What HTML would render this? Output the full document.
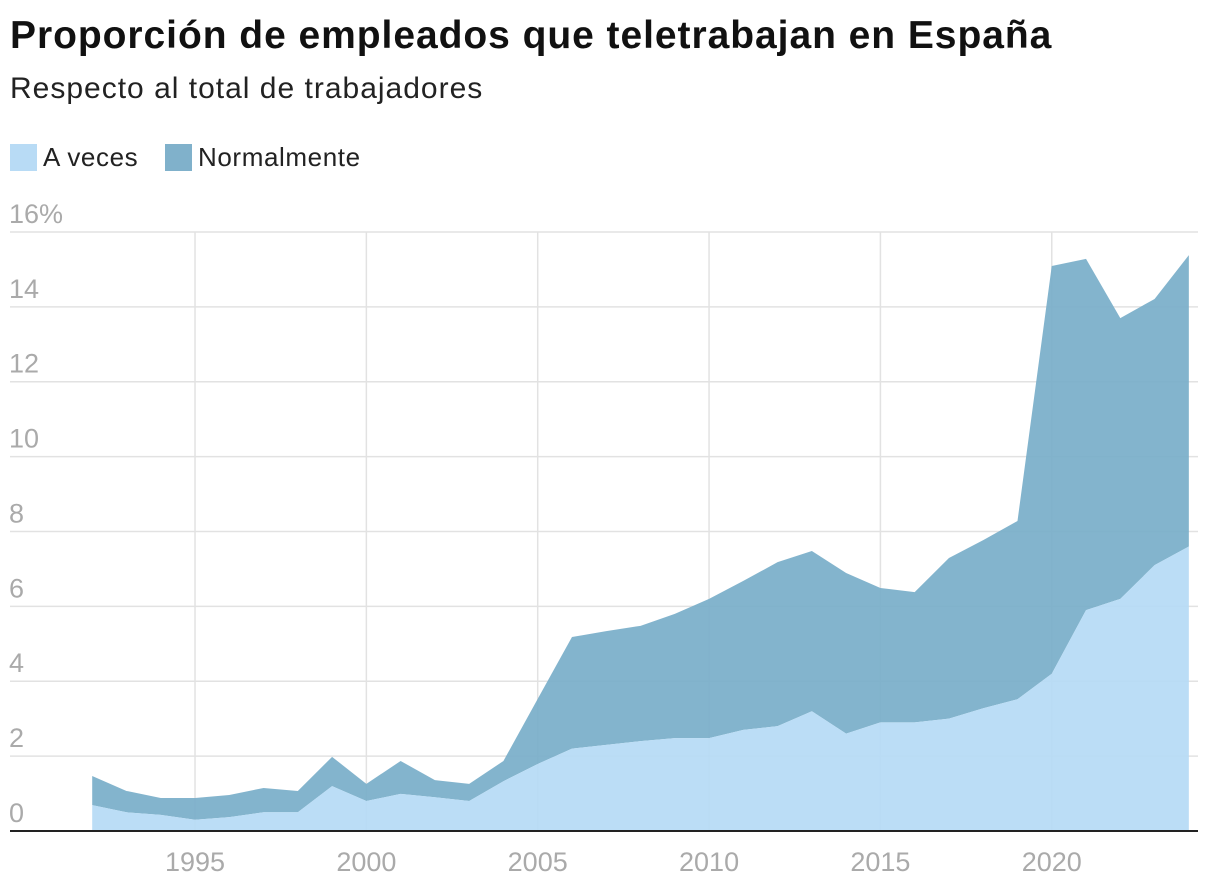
<!DOCTYPE html>
<html><head><meta charset="utf-8"><style>
body{margin:0;background:#fff;width:1220px;height:884px;overflow:hidden;font-family:"Liberation Sans",sans-serif;}
#title{position:absolute;left:10px;top:14px;font-size:39px;font-weight:bold;color:#111;letter-spacing:0.95px;}
#sub{position:absolute;left:10px;top:72px;font-size:30px;color:#222;letter-spacing:1px;}
.leg{position:absolute;top:142px;font-size:26px;color:#222;display:flex;align-items:center;letter-spacing:0.6px;}
.sw{width:27px;height:27px;margin-right:6px;display:inline-block;}
svg{position:absolute;left:0;top:0;}
</style></head><body>
<div id="title">Proporción de empleados que teletrabajan en España</div>
<div id="sub">Respecto al total de trabajadores</div>
<div class="leg" style="left:10px"><span class="sw" style="background:#b8dbf5"></span>A veces</div>
<div class="leg" style="left:165px"><span class="sw" style="background:#80b1cb"></span>Normalmente</div>
<svg id="chart" width="1220" height="884"></svg>
<script>
const years=[1992,1993,1994,1995,1996,1997,1998,1999,2000,2001,2002,2003,2004,2005,2006,2007,2008,2009,2010,2011,2012,2013,2014,2015,2016,2017,2018,2019,2020,2021,2022,2023,2024];
const aVeces=[0.69,0.5,0.43,0.3,0.37,0.5,0.5,1.2,0.8,0.99,0.9,0.8,1.33,1.79,2.2,2.3,2.4,2.48,2.48,2.7,2.8,3.2,2.6,2.9,2.9,3.0,3.28,3.52,4.2,5.9,6.2,7.1,7.6];
const normalmente=[0.78,0.57,0.45,0.58,0.59,0.65,0.57,0.78,0.46,0.88,0.46,0.46,0.54,1.74,2.98,3.04,3.08,3.32,3.72,3.98,4.38,4.28,4.29,3.59,3.48,4.29,4.49,4.76,10.89,9.38,7.5,7.11,7.78];
const yTicks=[0,2,4,6,8,10,12,14,16];
const xTicks=[1995,2000,2005,2010,2015,2020];
const NS='http://www.w3.org/2000/svg';
const svgEl=document.getElementById('chart');
const X=y=>92.2+(y-1992)*34.27;
const Y=v=>831-v*37.44;
function el(t,a){const e=document.createElementNS(NS,t);for(const k in a)e.setAttribute(k,a[k]);svgEl.appendChild(e);return e;}
yTicks.forEach(t=>{
 const l=el('line',{x1:10,x2:1198,y1:Y(t),y2:Y(t),stroke:'#e2e2e2','stroke-width':1.5});
 
 
 const tx=el('text',{x:9,y:Y(t)-9,fill:'#aaa','font-size':27,'font-family':'Liberation Sans, sans-serif'});
 tx.textContent=t===16?'16%':String(t);
 
 
});
xTicks.forEach(t=>{
 const l=el('line',{x1:X(t),x2:X(t),y1:Y(16),y2:831,stroke:'#e2e2e2','stroke-width':1.5});
 
 
 const tx=el('text',{x:X(t),y:871,fill:'#aaa','font-size':27,'text-anchor':'middle','font-family':'Liberation Sans, sans-serif'});
 tx.textContent=String(t);
 
 
});
const totals=years.map((y,i)=>aVeces[i]+normalmente[i]);
let dTop='',dBot='';
years.forEach((y,i)=>{dTop+=(i?'L':'M')+X(y)+','+Y(totals[i]);});
for(let i=years.length-1;i>=0;i--)dTop+='L'+X(years[i])+','+Y(aVeces[i]);
const p1=el('path',{d:dTop+'Z',fill:'#7aaec9',opacity:0.93});


years.forEach((y,i)=>{dBot+=(i?'L':'M')+X(y)+','+Y(aVeces[i]);});
dBot+='L'+X(2024)+','+Y(0)+'L'+X(1992)+','+Y(0)+'Z';
const p2=el('path',{d:dBot,fill:'#b6daf5',opacity:0.93});


const b=el('line',{x1:10,x2:1198,y1:831,y2:831,stroke:'#222','stroke-width':2});


</script>
</body></html>
